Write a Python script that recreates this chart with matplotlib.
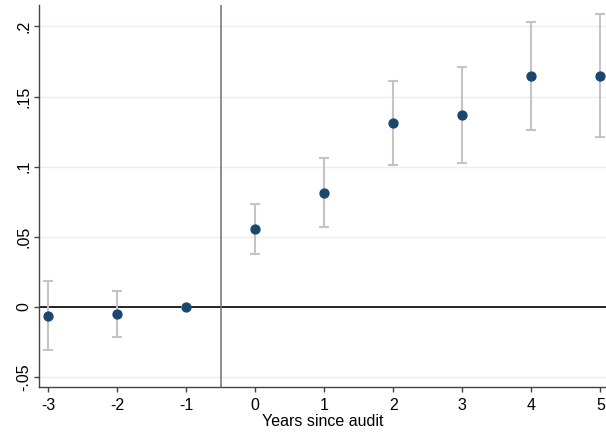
import matplotlib.pyplot as plt

# event-study estimates
years = [-3, -2, -1, 0, 1, 2, 3, 4, 5]
coef = [-0.0063, -0.0048, 0.0, 0.0556, 0.0813, 0.131, 0.1367, 0.1645, 0.1645]
ci_low = [-0.0305, -0.0214, 0.0, 0.0378, 0.057, 0.101, 0.1025, 0.1265, 0.1213]
ci_high = [0.0185, 0.0114, 0.0, 0.0735, 0.106, 0.161, 0.171, 0.2028, 0.2085]

ytick_vals = [-0.05, 0, 0.05, 0.1, 0.15, 0.2]
ytick_labels = ['-.05', '0', '.05', '.1', '.15', '.2']

plt.rcParams['font.family'] = ['Liberation Sans', 'DejaVu Sans']

fig = plt.figure(figsize=(6.06, 4.37), dpi=100)
ax = fig.add_axes([0.064, 0.115, 0.936, 0.874])

ax.set_xlim(-3.135, 5.08)
ax.set_ylim(-0.0568, 0.2154)

# light grid lines
for v in ytick_vals:
    ax.axhline(v, color='#e6f0f3', lw=1.0, zorder=0)

ax.axhline(0, color='black', lw=1.2, zorder=1)
ax.axvline(-0.5, color='#707070', lw=1.1, zorder=1)

lower = [c - l for c, l in zip(coef, ci_low)]
upper = [h - c for c, h in zip(coef, ci_high)]
ax.errorbar(years, coef, yerr=[lower, upper], fmt='none', ecolor='#c4c4c4',
            elinewidth=1.5, capsize=3.5, capthick=1.5, zorder=2)
ax.plot(years, coef, 'o', color='#1a476f', markersize=6.4, zorder=3)

ax.set_xticks(years)
ax.set_xticklabels([str(y) for y in years])
ax.set_yticks(ytick_vals)
ax.set_yticklabels(ytick_labels, rotation=90, va='center')
ax.tick_params(axis='both', labelsize=11.5, length=3.6, width=1, color='#444444')
ax.tick_params(axis='x', pad=4.5)
ax.tick_params(axis='y', pad=2)
ax.set_xlabel('Years since audit', fontsize=11.5, labelpad=1)

for s in ['top', 'right']:
    ax.spines[s].set_visible(False)
for s in ['left', 'bottom']:
    ax.spines[s].set_color('#444444')
    ax.spines[s].set_linewidth(1)

fig.savefig('out.png', dpi=100)
